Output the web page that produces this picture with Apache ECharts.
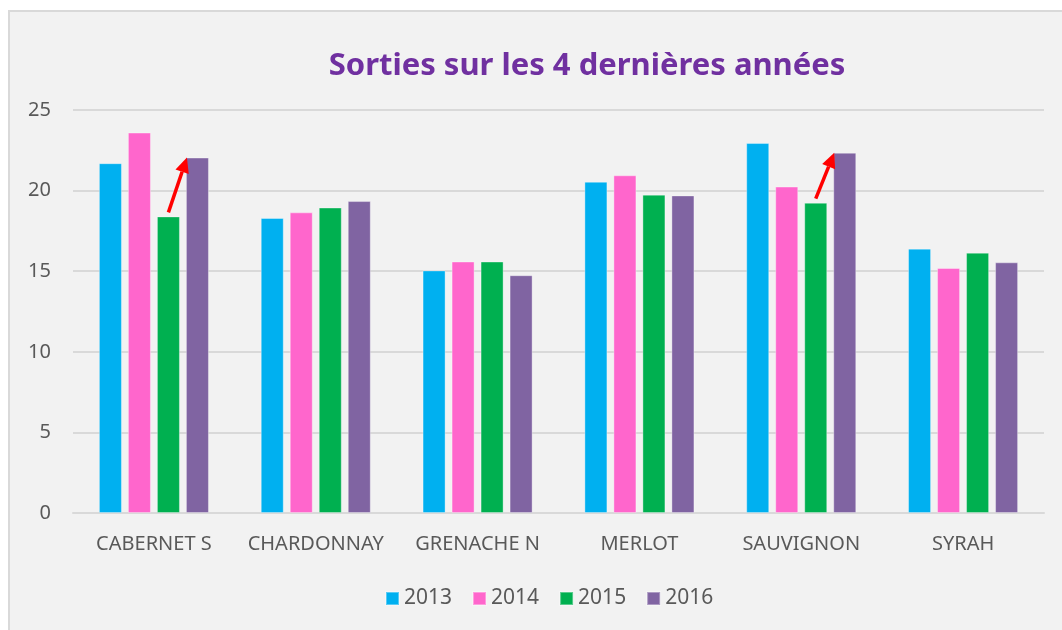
<!DOCTYPE html>
<html>
<head>
<meta charset="utf-8">
<script src="https://cdn.jsdelivr.net/npm/echarts@6/dist/echarts.min.js"></script>
<style>
  html, body { margin: 0; padding: 0; background: #fff; }
  #chart { width: 1062px; height: 630px; }
</style>
</head>
<body>
<div id="chart"></div>
<script>
var cepages = ["CABERNET S", "CHARDONNAY", "GRENACHE N", "MERLOT", "SAUVIGNON", "SYRAH"];
var annees = ["2013", "2014", "2015", "2016"];
var v2013 = [21.7, 18.3, 15.05, 20.55, 22.95, 16.4];
var v2014 = [23.6, 18.65, 15.6, 20.95, 20.25, 15.2];
var v2015 = [18.4, 18.95, 15.6, 19.75, 19.25, 16.15];
var v2016 = [22.05, 19.35, 14.75, 19.7, 22.35, 15.55];
// fleches rouges 2015 -> 2016
var fleches = [0, 4];
var couleurs = ["#00b0f0", "#ff66cc", "#00b050", "#8064a2"];

var valeurs = [v2013, v2014, v2015, v2016];
var catGap = 0.32, barGap = 0.26;

var myChart = echarts.init(document.getElementById("chart"));

var series = annees.map(function (a, k) {
  return {
    name: a,
    type: "bar",
    barCategoryGap: "32%",
    barGap: "26%",
    itemStyle: { color: couleurs[k], borderColor: "rgba(255,255,255,0.35)", borderWidth: 1 },
    data: valeurs[k]
  };
});

series.push({
  name: "fleches",
  type: "custom",
  silent: true,
  z: 10,
  data: fleches.map(function (i) { return [i, v2015[i], v2016[i]]; }),
  renderItem: function (params, api) {
    var band = api.size([1, 0])[0];
    var w = band * (1 - catGap) / (4 + 3 * barGap);
    var pas = w * (1 + barGap);
    var c = api.coord([api.value(0), api.value(1)]);
    var t = api.coord([api.value(0), api.value(2)]);
    var x1 = c[0] + 0.5 * pas, y1 = c[1] - 4;
    var x2 = t[0] + 1.5 * pas - w / 2 + 1, y2 = t[1];
    var ang = Math.atan2(y2 - y1, x2 - x1);
    var L = 15, H = 7;
    var bx = x2 - L * Math.cos(ang), by = y2 - L * Math.sin(ang);
    var px = -Math.sin(ang) * H, py = Math.cos(ang) * H;
    return {
      type: "group",
      children: [
        { type: "line", shape: { x1: x1, y1: y1, x2: bx, y2: by }, style: { stroke: "#ff0000", lineWidth: 3.5 } },
        { type: "polygon", shape: { points: [[x2, y2], [bx + px, by + py], [bx - px, by - py]] }, style: { fill: "#ff0000" } }
      ]
    };
  }
});

myChart.setOption({
  backgroundColor: "#ffffff",
  animation: false,
  graphic: [{
    type: "rect",
    left: 8, top: 10, z: -10,
    shape: { width: 1062, height: 630 },
    style: { fill: "#f2f2f2", stroke: "#d9d9d9", lineWidth: 2 }
  }],
  title: {
    text: "Sorties sur les 4 dernières années",
    left: 582, top: 46, textAlign: "center",
    textStyle: { color: "#7030a0", fontSize: 31, fontWeight: "bold", fontFamily: "Noto Sans" }
  },
  legend: {
    data: annees,
    bottom: 16, left: 380,
    itemWidth: 13, itemHeight: 13, itemGap: 20,
    icon: "rect",
    textStyle: { color: "#595959", fontSize: 21, fontFamily: "Noto Sans" }
  },
  grid: { left: 73, right: 18, top: 110, bottom: 117 },
  xAxis: {
    type: "category",
    data: cepages,
    axisLine: { lineStyle: { color: "#d9d9d9", width: 2 } },
    axisTick: { show: false },
    axisLabel: { color: "#595959", fontSize: 20, fontFamily: "Noto Sans", margin: 21, interval: 0 }
  },
  yAxis: {
    type: "value",
    min: 0, max: 25, interval: 5,
    axisLine: { show: false },
    axisTick: { show: false },
    splitLine: { lineStyle: { color: "#d9d9d9", width: 2 } },
    axisLabel: { color: "#595959", fontSize: 20, fontFamily: "Noto Sans", margin: 22 }
  },
  series: series
});
</script>
</body>
</html>
